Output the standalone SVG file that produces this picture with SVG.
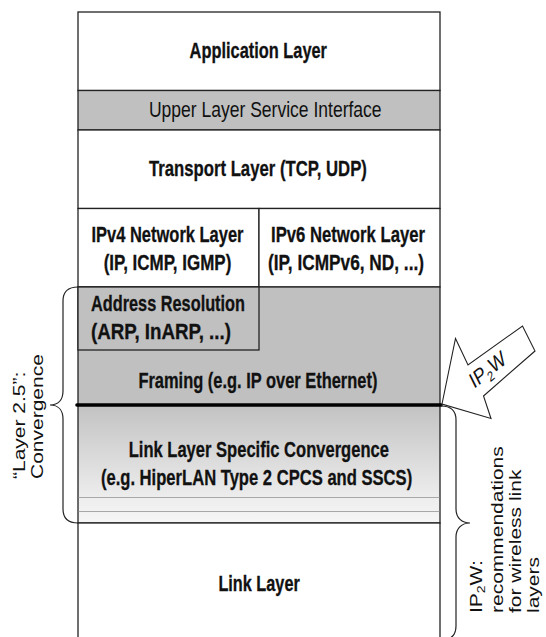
<svg xmlns="http://www.w3.org/2000/svg" width="546" height="637" viewBox="0 0 546 637">
<defs>
<linearGradient id="llsc" x1="0" y1="405" x2="0" y2="523" gradientUnits="userSpaceOnUse">
<stop offset="0" stop-color="#c2c2c2"/>
<stop offset="0.8" stop-color="#eeeeee"/>
<stop offset="1" stop-color="#f6f6f6"/>
</linearGradient>
<style>
text{font-family:"Liberation Sans",Arial,sans-serif;fill:#111;font-size:21.5px}
.b{font-weight:bold;stroke:#111;stroke-width:0.3}
.ln{stroke:#222;stroke-width:1.3}
.w{fill:#fff}
.g{fill:#c0c0c0}
.thin{stroke:#a8a8a8;stroke-width:1;fill:none}
.brace{fill:none;stroke:#222;stroke-width:1.2}
.rot{font-size:21px}
</style>
</defs>
<rect width="546" height="637" fill="#fff"/>

<g id="application-layer">
<rect x="78" y="12" width="362" height="78.5" class="w ln"/>
<text class="b" x="189.6" y="58.3" textLength="137.4" lengthAdjust="spacingAndGlyphs">Application Layer</text>
</g>

<g id="upper-layer-service-interface">
<rect x="78" y="90.5" width="362" height="39.5" class="g ln"/>
<text x="148.9" y="117.3" textLength="232.7" lengthAdjust="spacingAndGlyphs">Upper Layer Service Interface</text>
</g>

<g id="transport-layer">
<rect x="78" y="130" width="362" height="78.5" class="w ln"/>
<text class="b" x="148.9" y="176" textLength="218" lengthAdjust="spacingAndGlyphs">Transport Layer (TCP, UDP)</text>
</g>

<g id="ipv4-network-layer">
<rect x="78" y="208.5" width="181" height="78.5" class="w ln"/>
<text class="b" x="91.5" y="241.7" textLength="152" lengthAdjust="spacingAndGlyphs">IPv4 Network Layer</text>
<text class="b" x="103.7" y="270" textLength="127.6" lengthAdjust="spacingAndGlyphs">(IP, ICMP, IGMP)</text>
</g>

<g id="ipv6-network-layer">
<rect x="259" y="208.5" width="181" height="78.5" class="w ln"/>
<text class="b" x="271" y="241.7" textLength="154" lengthAdjust="spacingAndGlyphs">IPv6 Network Layer</text>
<text class="b" x="268" y="270" textLength="156" lengthAdjust="spacingAndGlyphs">(IP, ICMPv6, ND, ...)</text>
</g>

<g id="framing">
<rect x="78" y="287" width="362" height="118" class="g ln"/>
<text class="b" x="138.4" y="388" textLength="239" lengthAdjust="spacingAndGlyphs">Framing (e.g. IP over Ethernet)</text>
</g>

<g id="address-resolution">
<rect x="78" y="287" width="181" height="63" class="g ln"/>
<text class="b" x="91" y="310.7" textLength="154" lengthAdjust="spacingAndGlyphs">Address Resolution</text>
<text class="b" x="91" y="339" textLength="140" lengthAdjust="spacingAndGlyphs">(ARP, InARP, ...)</text>
</g>

<g id="link-layer-specific-convergence">
<rect x="78" y="405" width="362" height="118" fill="url(#llsc)" class="ln"/>
<line x1="78.7" y1="497.5" x2="439.3" y2="497.5" class="thin"/>
<line x1="78.7" y1="511.5" x2="439.3" y2="511.5" class="thin"/>
<text class="b" x="128.7" y="456.7" textLength="260.2" lengthAdjust="spacingAndGlyphs">Link Layer Specific Convergence</text>
<text class="b" x="100.9" y="484.5" textLength="311.3" lengthAdjust="spacingAndGlyphs">(e.g. HiperLAN Type 2 CPCS and SSCS)</text>
</g>

<g id="link-layer">
<rect x="78" y="523" width="362" height="125" class="w ln"/>
<text class="b" x="218.4" y="590.7" textLength="81.4" lengthAdjust="spacingAndGlyphs">Link Layer</text>
</g>

<g id="boundary">
<line x1="77" y1="405" x2="441" y2="405" stroke="#000" stroke-width="3.6" stroke-linecap="round"/>
</g>

<g id="connectors">
<path class="brace" d="M78,287 Q63,287 63,301 V391 C63,400 58,405 50,405 C58,405 63,410 63,419 V509 Q63,523 78,523"/>
<path class="brace" d="M441,406 Q456,406 456,420 V509 C456,518 462,523 470,523 C462,523 456,528 456,537 V626 Q456,640 441,640"/>
<polygon points="442,404 455.5,338.5 468,365 522.5,326 535,351 483.5,396 491,418.5" fill="#fff" stroke="#222" stroke-width="1.1" stroke-linejoin="miter"/>
</g>

<g id="labels">
<text transform="translate(474,389) scale(0.8,1) rotate(-32)" style="font-size:22px">IP<tspan style="font-size:14px" dy="5">2</tspan><tspan dy="-5">W</tspan></text>
<text class="rot" transform="translate(25,479) scale(0.8,1) rotate(-90)">“Layer 2.5”:</text>
<text class="rot" transform="translate(43,479) scale(0.8,1) rotate(-90)">Convergence</text>
<text class="rot" transform="translate(482,613) scale(0.8,1) rotate(-90)">IP<tspan style="font-size:14px" dy="4">2</tspan><tspan dy="-4">W:</tspan></text>
<text class="rot" transform="translate(503,613) scale(0.8,1) rotate(-90)">recommendations</text>
<text class="rot" transform="translate(521,613) scale(0.8,1) rotate(-90)">for wireless link</text>
<text class="rot" transform="translate(539,613) scale(0.8,1) rotate(-90)">layers</text>
</g>
</svg>
